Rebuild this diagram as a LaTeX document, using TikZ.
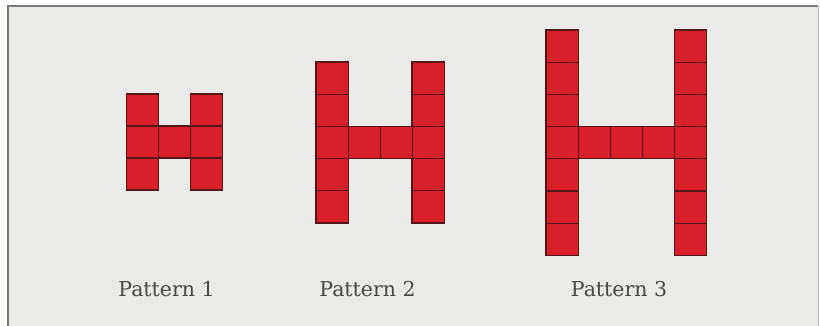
\documentclass[tikz,border=0pt]{standalone}
\usepackage{fontspec}
\newfontfamily\lblfont{DejaVu Serif}
\begin{document}
\begin{tikzpicture}[x=1pt,y=-1pt,
  sq/.style={fill=tilered,draw=tileedge,line width=1.3pt},
  lbl/.style={text=labelgray,font=\lblfont\fontsize{20.5}{23}\selectfont,anchor=base}]
\definecolor{tilered}{RGB}{216,32,42}
\definecolor{tileedge}{RGB}{85,22,24}
\definecolor{bggray}{RGB}{234,235,233}
\definecolor{labelgray}{RGB}{70,72,70}
\definecolor{framegray}{RGB}{120,122,120}
\useasboundingbox (0,0) rectangle (820,326);
\fill[white] (0,0) rectangle (820,326);
\fill[bggray] (8,6) rectangle (818,326);
\draw[framegray,line width=2pt] (8,326) -- (8,6) -- (818,6);
\draw[framegray!50,line width=1pt] (818,6) -- (818,326);
% Pattern 1
\foreach \r in {0,1,2} {
  \draw[sq] (126.5,94+32*\r) rectangle ++(32,32);
  \draw[sq] (190.5,94+32*\r) rectangle ++(32,32);
}
\draw[sq] (158.5,126) rectangle ++(32,32);
% Pattern 2
\foreach \r in {0,...,4} {
  \draw[sq] (316,62+32.2*\r) rectangle ++(32.2,32.2);
  \draw[sq] (412,62+32.2*\r) rectangle ++(32.2,32.2);
}
\foreach \c in {0,1} \draw[sq] (348.2+32*\c,126.4) rectangle ++(32,32.2);
% Pattern 3
\foreach \r in {0,...,6} {
  \draw[sq] (546,30+32.2*\r) rectangle ++(32.2,32.2);
  \draw[sq] (674.2,30+32.2*\r) rectangle ++(32.2,32.2);
}
\foreach \c in {0,1,2} \draw[sq] (578.2+32*\c,126.6) rectangle ++(32,32.2);
% labels
\node[lbl] (p1) at (166.5,296) {Pattern 1};
\node[lbl] (p2) at (367.5,296) {Pattern 2};
\node[lbl] (p3) at (619,296) {Pattern 3};
\end{tikzpicture}
\end{document}
